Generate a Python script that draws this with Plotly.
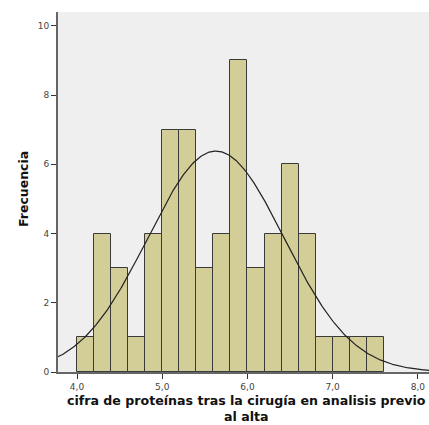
import numpy as np
import plotly.graph_objects as go

# Histogram bins (width 0.2) and their frequencies
bin_starts = [4.0, 4.2, 4.4, 4.6, 4.8, 5.0, 5.2, 5.4, 5.6, 5.8,
              6.0, 6.2, 6.4, 6.6, 6.8, 7.0, 7.2, 7.4]
frequencies = [1, 4, 3, 1, 4, 7, 7, 3, 4, 9, 3, 4, 6, 4, 1, 1, 1, 1]
bin_width = 0.2

# Fitted normal curve parameters
curve_mean = 5.63
curve_sd = 0.80

x_ticks = [4.0, 5.0, 6.0, 7.0, 8.0]
x_tick_labels = ["4,0", "5,0", "6,0", "7,0", "8,0"]
y_ticks = [0, 2, 4, 6, 8, 10]

x_title = "cifra de proteínas tras la cirugía en analisis previo<br>al alta"
y_title = "Frecuencia"

n_total = sum(frequencies)
centers = [b + bin_width / 2 for b in bin_starts]

xc = np.linspace(3.7, 8.2, 400)
yc = n_total * bin_width / (curve_sd * np.sqrt(2 * np.pi)) * np.exp(-0.5 * ((xc - curve_mean) / curve_sd) ** 2)

fig = go.Figure()
fig.add_trace(go.Bar(
    x=centers, y=frequencies, width=bin_width,
    marker=dict(color="#D3CE98", line=dict(color="#3a3a3a", width=1)),
    hoverinfo="x+y",
))
fig.add_trace(go.Scatter(
    x=xc, y=yc, mode="lines",
    line=dict(color="#222222", width=1.2),
    hoverinfo="skip",
))

fig.update_layout(
    width=429, height=425,
    margin=dict(l=58, r=0, t=12, b=53),
    paper_bgcolor="white",
    plot_bgcolor="#EFEFEF",
    showlegend=False,
    bargap=0,
    font=dict(family="DejaVu Sans", color="#333333"),
)
fig.update_xaxes(
    range=[3.777, 8.13],
    tickvals=x_ticks, ticktext=x_tick_labels,
    ticks="outside", ticklen=5, tickwidth=1, tickcolor="#333333",
    tickfont=dict(size=9, color="#444444"),
    showgrid=False, zeroline=False,
    showline=True, linecolor="#666666", linewidth=2,
    automargin=False,
)
fig.update_yaxes(
    range=[0, 10.4],
    tickvals=y_ticks,
    ticks="outside", ticklen=5, tickwidth=1, tickcolor="#333333",
    tickfont=dict(size=9, color="#444444"),
    showgrid=False, zeroline=False,
    showline=True, linecolor="#666666", linewidth=2,
    automargin=False,
)

# Axis titles; the two-line x title sits against the bottom edge
fig.add_annotation(
    text=f"<b>{x_title}</b>", xref="paper", yref="paper", x=0.5, y=0,
    xanchor="center", yanchor="bottom", xshift=3, yshift=-53, showarrow=False,
    borderpad=0, font=dict(size=12.6, color="#111111"),
)
fig.add_annotation(
    text=f"<b>{y_title}</b>", xref="paper", yref="paper", x=0, y=0.5,
    xanchor="center", yanchor="middle", xshift=-35, yshift=3, textangle=-90,
    showarrow=False, font=dict(size=12.5, color="#111111"),
)

fig.write_html("out.html")
